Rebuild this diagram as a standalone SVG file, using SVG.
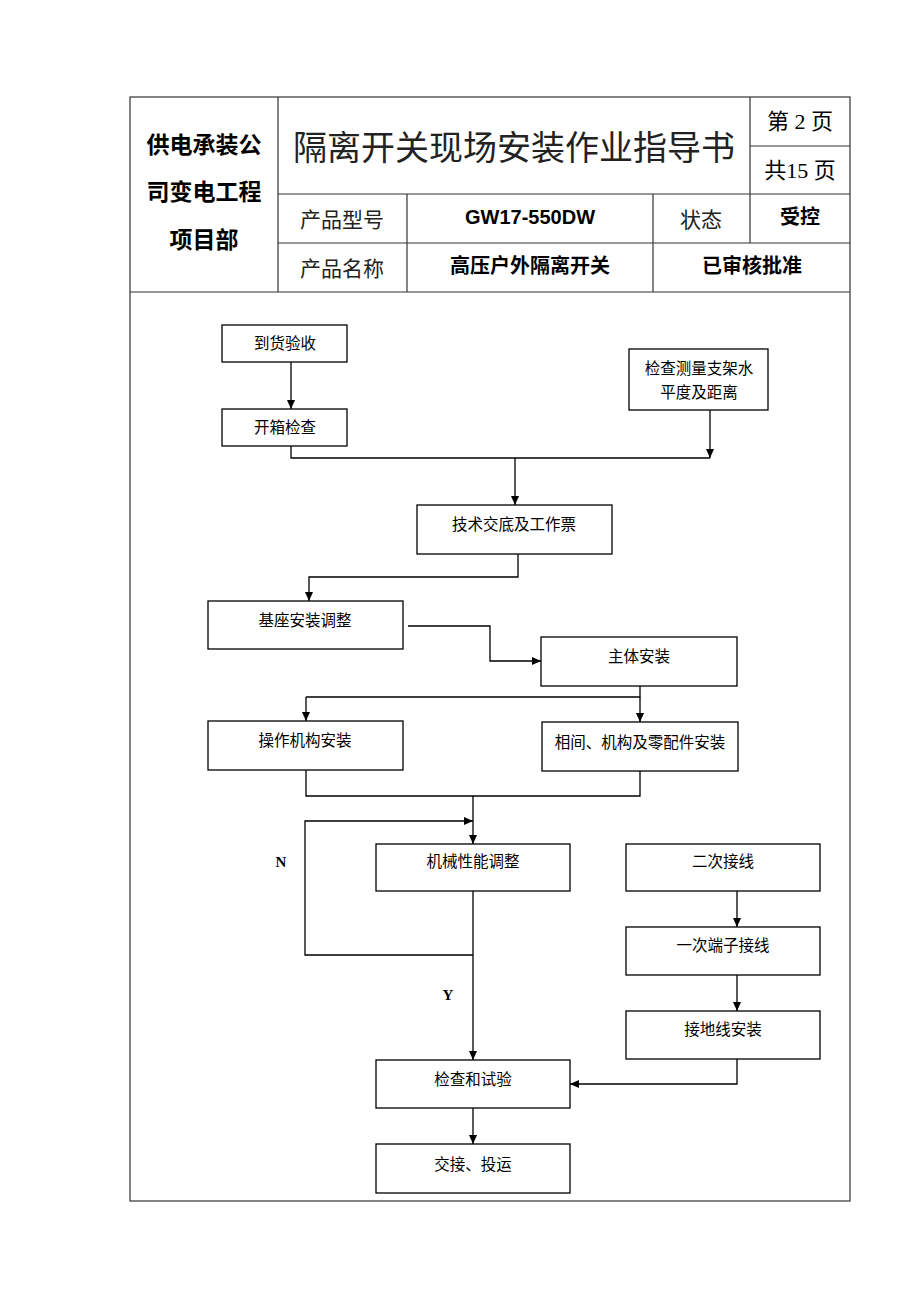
<svg xmlns="http://www.w3.org/2000/svg" width="920" height="1302" viewBox="0 0 920 1302">
<defs>
<marker id="ah" markerWidth="10" markerHeight="10" refX="9" refY="5" orient="auto" markerUnits="userSpaceOnUse">
<path d="M0,1 L9,5 L0,9 Z" fill="#000"/>
</marker>
<style>
.grid{stroke:#333;stroke-width:1.2;fill:none}
.box{fill:#fff;stroke:#000;stroke-width:1.3}
.ln{fill:none;stroke:#000;stroke-width:1.3}
.arr{fill:none;stroke:#000;stroke-width:1.3;marker-end:url(#ah)}
.ft{font-family:"Liberation Serif","Noto Sans CJK SC",serif;font-size:15.5px;fill:#000;text-anchor:middle}
.hb{font-family:"Liberation Sans","Noto Sans CJK SC",sans-serif;font-weight:bold;fill:#000;text-anchor:middle}
.hn{font-family:"Liberation Sans","Noto Sans CJK SC",sans-serif;fill:#222;text-anchor:middle}
.hs{font-family:"Liberation Serif","Noto Sans CJK SC",serif;font-size:22px;fill:#000;text-anchor:middle}
.lb{font-family:"Liberation Serif",serif;font-weight:bold;font-size:15px;fill:#000;text-anchor:middle}
</style>
</defs>
<rect width="920" height="1302" fill="#fff"/>
<g id="table">
<rect class="grid" x="130" y="97" width="720" height="1104"/>
<line class="grid" x1="278" y1="97" x2="278" y2="292"/>
<line class="grid" x1="750" y1="97" x2="750" y2="243"/>
<line class="grid" x1="750" y1="146" x2="850" y2="146"/>
<line class="grid" x1="278" y1="194" x2="850" y2="194"/>
<line class="grid" x1="278" y1="243" x2="850" y2="243"/>
<line class="grid" x1="130" y1="292" x2="850" y2="292"/>
<line class="grid" x1="407" y1="194" x2="407" y2="292"/>
<line class="grid" x1="653" y1="194" x2="653" y2="292"/>
<text class="hb" x="204" y="153" font-size="23">供电承装公</text>
<text class="hb" x="204" y="200" font-size="23">司变电工程</text>
<text class="hb" x="204" y="248" font-size="23">项目部</text>
<text class="hn" x="514" y="160" font-size="34" fill="#000">隔离开关现场安装作业指导书</text>
<text class="hs" x="800" y="129">第 2 页</text>
<text class="hs" x="800" y="178">共15 页</text>
<text class="hn" x="342" y="227" font-size="21">产品型号</text>
<text class="hb" x="530" y="224" font-size="20">GW17-550DW</text>
<text class="hn" x="701" y="227" font-size="21">状态</text>
<text class="hb" x="800" y="224" font-size="20">受控</text>
<text class="hn" x="342" y="276" font-size="21">产品名称</text>
<text class="hb" x="530" y="273" font-size="20">高压户外隔离开关</text>
<text class="hb" x="752" y="273" font-size="20">已审核批准</text>
</g>
<g id="connectors">
<line class="arr" x1="291" y1="362" x2="291" y2="409"/>
<polyline class="ln" points="291,446 291,458 710,458"/>
<line class="arr" x1="710" y1="410" x2="710" y2="458"/>
<line class="arr" x1="515" y1="458" x2="515" y2="505"/>
<polyline class="arr" points="518,554 518,577 309,577 309,601"/>
<polyline class="arr" points="408,626 490,626 490,661 541,661"/>
<polyline class="ln" points="640,686 640,697 306,697"/>
<line class="arr" x1="306" y1="697" x2="306" y2="721"/>
<line class="arr" x1="640" y1="697" x2="640" y2="722"/>
<polyline class="ln" points="306,770 306,796 640,796 640,771"/>
<line class="arr" x1="473" y1="796" x2="473" y2="844"/>
<polyline class="arr" points="473,955 305,955 305,821 473,821"/>
<line class="arr" x1="473" y1="891" x2="473" y2="1060"/>
<line class="arr" x1="737" y1="891" x2="737" y2="927"/>
<line class="arr" x1="737" y1="975" x2="737" y2="1011"/>
<polyline class="arr" points="737,1059 737,1084 570,1084"/>
<line class="arr" x1="473" y1="1108" x2="473" y2="1144"/>
<text class="lb" x="281" y="867">N</text>
<text class="lb" x="448" y="1000">Y</text>
</g>
<g id="n1"><rect class="box" x="222" y="325" width="125" height="37"/><text class="ft" x="285" y="349">到货验收</text></g>
<g id="n2"><rect class="box" x="629" y="349" width="139" height="61"/><text class="ft" x="699" y="374">检查测量支架水</text><text class="ft" x="699" y="398">平度及距离</text></g>
<g id="n3"><rect class="box" x="222" y="409" width="125" height="37"/><text class="ft" x="285" y="433">开箱检查</text></g>
<g id="n4"><rect class="box" x="417" y="505" width="195" height="49"/><text class="ft" x="514" y="530">技术交底及工作票</text></g>
<g id="n5"><rect class="box" x="208" y="601" width="195" height="48"/><text class="ft" x="305" y="626">基座安装调整</text></g>
<g id="n6"><rect class="box" x="541" y="637" width="196" height="49"/><text class="ft" x="639" y="662">主体安装</text></g>
<g id="n7"><rect class="box" x="208" y="721" width="195" height="49"/><text class="ft" x="305" y="746">操作机构安装</text></g>
<g id="n8"><rect class="box" x="542" y="722" width="196" height="49"/><text class="ft" x="640" y="748">相间、机构及零配件安装</text></g>
<g id="n9"><rect class="box" x="376" y="844" width="194" height="47"/><text class="ft" x="473" y="867">机械性能调整</text></g>
<g id="n10"><rect class="box" x="626" y="844" width="194" height="47"/><text class="ft" x="723" y="867">二次接线</text></g>
<g id="n11"><rect class="box" x="626" y="927" width="194" height="48"/><text class="ft" x="723" y="951">一次端子接线</text></g>
<g id="n12"><rect class="box" x="626" y="1011" width="194" height="48"/><text class="ft" x="723" y="1035">接地线安装</text></g>
<g id="n13"><rect class="box" x="376" y="1060" width="194" height="48"/><text class="ft" x="473" y="1085">检查和试验</text></g>
<g id="n14"><rect class="box" x="376" y="1144" width="194" height="49"/><text class="ft" x="473" y="1170">交接、投运</text></g>
</svg>
